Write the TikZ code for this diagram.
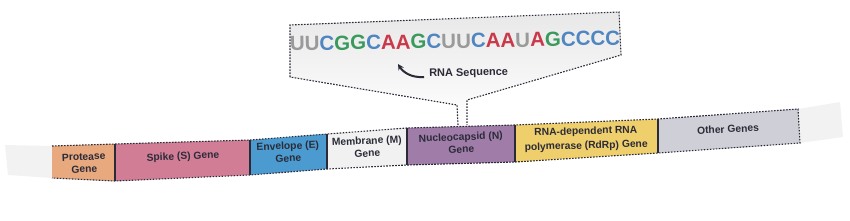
\documentclass[tikz,border=0pt]{standalone}
\usepackage{fontspec}
\setmainfont{Liberation Sans}
\usetikzlibrary{arrows.meta}
\definecolor{cProt}{HTML}{E9A97F}
\definecolor{cSpike}{HTML}{D27D96}
\definecolor{cEnv}{HTML}{4C9BD0}
\definecolor{cMem}{HTML}{F1F1F1}
\definecolor{cNuc}{HTML}{A07DA9}
\definecolor{cRdRp}{HTML}{EFCF6C}
\definecolor{cOther}{HTML}{CFD0D7}
\definecolor{cTail}{HTML}{F2F2F2}
\definecolor{cInk}{HTML}{2B2B38}
\definecolor{cU}{HTML}{9A9A9A}
\definecolor{cC}{HTML}{4F86C2}
\definecolor{cG}{HTML}{3A9A5C}
\definecolor{cA}{HTML}{C9394A}
\tikzset{
  dashedge/.style={draw=cInk, line width=1.1pt, dash pattern=on 1.6pt off 1.4pt},
  sepline/.style={draw=cInk, line width=1.8pt},
  genelabel/.style={font=\bfseries\fontsize{10.3}{12.5}\selectfont, text=cInk, align=center, rotate=2.5, inner sep=0pt},
}
\newcommand{\nU}{\textcolor{cU}{U}}
\newcommand{\nC}{\textcolor{cC}{C}}
\newcommand{\nG}{\textcolor{cG}{G}}
\newcommand{\nA}{\textcolor{cA}{A}}
\begin{document}
\begin{tikzpicture}[x=1pt,y=-1pt]
\useasboundingbox (0,0) rectangle (850,220);
% strip boundary coordinates
\coordinate (t0) at (5,145);   \coordinate (b0) at (8,175);
\coordinate (t1) at (52,146);  \coordinate (b1) at (52,178);
\coordinate (t2) at (115,144); \coordinate (b2) at (115,181);
\coordinate (t3) at (250,140); \coordinate (b3) at (250,175);
\coordinate (t4) at (327,134); \coordinate (b4) at (327,169);
\coordinate (t5) at (407,128); \coordinate (b5) at (407,165);
\coordinate (t6) at (515,125); \coordinate (b6) at (515,162);
\coordinate (t7) at (658,119); \coordinate (b7) at (658,153);
\coordinate (t8) at (798,109); \coordinate (b8) at (800,143);
\coordinate (t9) at (840,102); \coordinate (b9) at (843,137);
% tails
\fill[cTail] (t0) -- (t1) -- (b1) -- (b0) -- cycle;
\fill[cTail] (t8) -- (t9) -- (b9) -- (b8) -- cycle;
% gene boxes
\fill[cProt]  (t1) -- (t2) -- (b2) -- (b1) -- cycle;
\fill[cSpike] (t2) -- (t3) -- (b3) -- (b2) -- cycle;
\fill[cEnv]   (t3) -- (t4) -- (b4) -- (b3) -- cycle;
\fill[cMem]   (t4) -- (t5) -- (b5) -- (b4) -- cycle;
\fill[cNuc]   (t5) -- (t6) -- (b6) -- (b5) -- cycle;
\fill[cRdRp]  (t6) -- (t7) -- (b7) -- (b6) -- cycle;
\fill[cOther] (t7) -- (t8) -- (b8) -- (b7) -- cycle;
% dashed edges
\draw[dashedge] (t1) -- (t2) -- (t3) -- (t4) -- (t5) -- (t6) -- (t7) -- (t8) -- (b8) -- (b7) -- (b6) -- (b5) -- (b4) -- (b3) -- (b2) -- (b1);
% separators
\foreach \i in {2,3,4,5,6,7} { \draw[sepline] (t\i) -- (b\i); }
% callout
\coordinate (c1) at (290,25);
\coordinate (c2) at (619,12);
\coordinate (c3) at (621,55);
\coordinate (c4) at (467,100);
\coordinate (c5) at (467,125);
\coordinate (c6) at (458,125);
\coordinate (c7) at (457,105);
\coordinate (c8) at (290,77);
\shade[top color=black!9, bottom color=white] (c1) -- (c2) -- (c3) -- (c4) -- (c5) -- (c6) -- (c7) -- (c8) -- cycle;
\draw[dashedge] (c8) -- (c1) -- (c2) -- (c3) -- (c4) -- (c5);
\draw[dashedge] (c6) -- (c7) -- (c8);
% sequence
\node[font=\bfseries\fontsize{20.5}{22}\selectfont, inner sep=0pt, rotate=1] (seq) at (455,41)
  {\nU\nU\nC\nG\nG\nC\nA\nA\nG\nC\nU\nU\nC\nA\nA\nU\nA\nG\nC\nC\nC\nC};
\node[font=\bfseries\fontsize{11}{12}\selectfont, text=cInk, inner sep=0pt, anchor=west, rotate=1] (lbl) at (429,74) {RNA Sequence};
\coordinate (arrS) at (424,77);
\coordinate (arrE) at (398,64);
\draw[draw=cInk, line width=2pt, -{Stealth[length=6pt,width=6pt]}] (arrS) .. controls (411,78) and (403,72) .. (arrE);
% labels
\node[genelabel] (prot)  at (84,163)  {Protease\\Gene};
\node[genelabel] (spike) at (183,157) {Spike (S) Gene};
\node[genelabel] (env)   at (288,152) {Envelope (E)\\Gene};
\node[genelabel] (mem)   at (367,147) {Membrane (M)\\Gene};
\node[genelabel] (nuc)   at (461,143) {Nucleocapsid (N)\\Gene};
\node[genelabel, rotate=-1, font=\bfseries\fontsize{10.3}{14.5}\selectfont] (rdrp)  at (586,139) {RNA-dependent RNA\\polymerase (RdRp) Gene};
\node[genelabel] (other) at (728,129) {Other Genes};
\end{tikzpicture}
\end{document}
